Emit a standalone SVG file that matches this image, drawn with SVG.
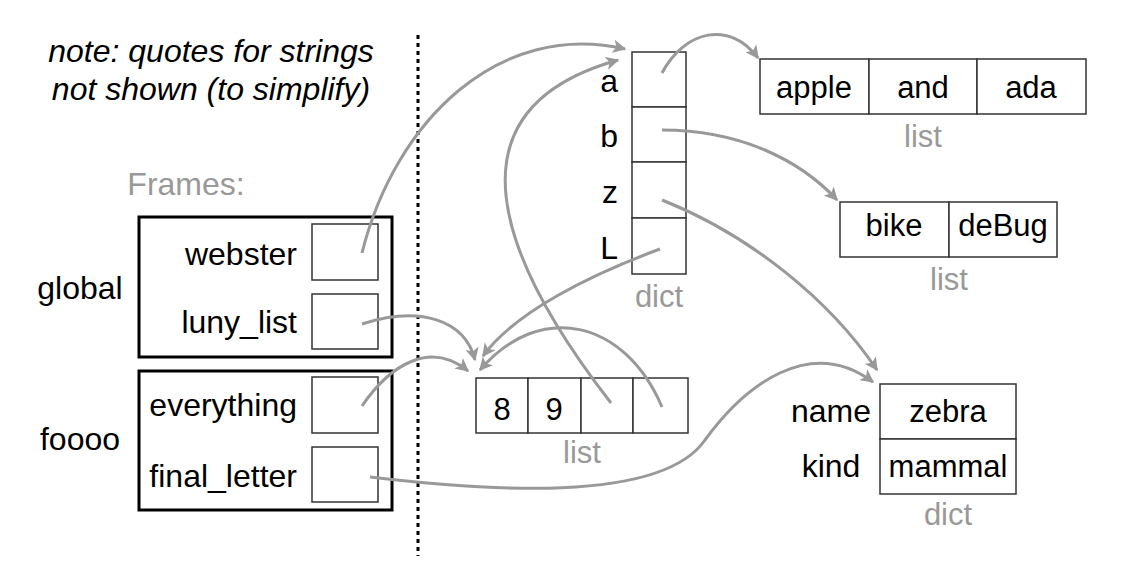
<svg xmlns="http://www.w3.org/2000/svg" width="1124" height="567" viewBox="0 0 1124 567">
<style>
  text { font-family: "Liberation Sans", Arial, sans-serif; fill: #000; }
  .lbl { font-size: 32px; }
  .val { font-size: 31px; text-anchor: middle; }
  .type { font-size: 31px; fill: #999; text-anchor: middle; }
  .cell { fill: #fff; stroke: #333; stroke-width: 1.5; }
  .frame { fill: none; stroke: #000; stroke-width: 3; }
  .conn { fill: none; stroke: #999; stroke-width: 3; marker-end: url(#arr); }
</style>
<defs>
  <marker id="arr" viewBox="0 0 10 10" refX="9" refY="5" markerWidth="4.5" markerHeight="4.5" orient="auto" markerUnits="strokeWidth">
    <path d="M0,0 L10,5 L0,10 L2.5,5 Z" fill="#999"/>
  </marker>
</defs>
<rect width="1124" height="567" fill="#fff"/>

<g id="note">
  <text class="lbl" x="211" y="62" text-anchor="middle" font-style="italic">note: quotes for strings</text>
  <text class="lbl" x="211" y="100" text-anchor="middle" font-style="italic">not shown (to simplify)</text>
</g>

<g id="divider">
  <line x1="418" y1="35" x2="418" y2="556" stroke="#000" stroke-width="3" stroke-dasharray="4,4"/>
</g>

<g id="frames-label">
  <text class="lbl" x="186" y="195" text-anchor="middle" style="fill:#999">Frames:</text>
</g>

<g id="frame-global">
  <text class="lbl" x="80" y="299" text-anchor="middle">global</text>
  <rect class="frame" x="139" y="217" width="253" height="140"/>
  <text class="lbl" x="297" y="265" text-anchor="end">webster</text>
  <rect class="cell" x="312" y="224" width="66" height="56"/>
  <text class="lbl" x="297" y="333" text-anchor="end">luny_list</text>
  <rect class="cell" x="312" y="294" width="66" height="55"/>
</g>

<g id="frame-foooo">
  <text class="lbl" x="80" y="450" text-anchor="middle">foooo</text>
  <rect class="frame" x="139" y="371" width="253" height="139"/>
  <text class="lbl" x="297" y="416" text-anchor="end">everything</text>
  <rect class="cell" x="312" y="377" width="66" height="56"/>
  <text class="lbl" x="297" y="487" text-anchor="end">final_letter</text>
  <rect class="cell" x="312" y="447" width="66" height="55"/>
</g>

<g id="dict-webster">
  <rect class="cell" x="632" y="52" width="54" height="55"/>
  <rect class="cell" x="632" y="107" width="54" height="55"/>
  <rect class="cell" x="632" y="162" width="54" height="56"/>
  <rect class="cell" x="632" y="218" width="54" height="56"/>
  <text class="lbl" x="618" y="92" text-anchor="end">a</text>
  <text class="lbl" x="618" y="147" text-anchor="end">b</text>
  <text class="lbl" x="618" y="203" text-anchor="end">z</text>
  <text class="lbl" x="618" y="259" text-anchor="end">L</text>
  <text class="type" x="659" y="307">dict</text>
</g>

<g id="list-apple">
  <rect class="cell" x="760" y="59" width="109" height="55"/>
  <rect class="cell" x="869" y="59" width="108" height="55"/>
  <rect class="cell" x="977" y="59" width="109" height="55"/>
  <text class="val" x="814" y="98">apple</text>
  <text class="val" x="923" y="98">and</text>
  <text class="val" x="1031" y="98">ada</text>
  <text class="type" x="923" y="147">list</text>
</g>

<g id="list-bike">
  <rect class="cell" x="840" y="202" width="109" height="55"/>
  <rect class="cell" x="949" y="202" width="108" height="55"/>
  <text class="val" x="894" y="236">bike</text>
  <text class="val" x="1003" y="236">deBug</text>
  <text class="type" x="949" y="290">list</text>
</g>

<g id="list-nums">
  <rect class="cell" x="476" y="378" width="52" height="55"/>
  <rect class="cell" x="528" y="378" width="53" height="55"/>
  <rect class="cell" x="581" y="378" width="52" height="55"/>
  <rect class="cell" x="633" y="378" width="55" height="55"/>
  <text class="val" x="502" y="420">8</text>
  <text class="val" x="554" y="420">9</text>
  <text class="type" x="582" y="463">list</text>
</g>

<g id="dict-zebra">
  <rect class="cell" x="880" y="384" width="136" height="55"/>
  <rect class="cell" x="880" y="439" width="136" height="55"/>
  <text class="lbl" x="831" y="422" text-anchor="middle">name</text>
  <text class="lbl" x="831" y="477" text-anchor="middle">kind</text>
  <text class="val" x="948" y="422">zebra</text>
  <text class="val" x="948" y="477">mammal</text>
  <text class="type" x="948" y="525">dict</text>
</g>

<g id="connectors">
  <path class="conn" d="M362,253 C395,120 500,20 625,49"/>
  <path class="conn" d="M611,403 C500,260 440,110 618,60"/>
  <path class="conn" d="M662,73 C685,30 730,20 758,58"/>
  <path class="conn" d="M662,130 C740,130 800,160 837,200"/>
  <path class="conn" d="M662,200 C750,235 830,300 877,370"/>
  <path class="conn" d="M660,249 C590,275 515,312 483,356"/>
  <path class="conn" d="M362,324 C420,305 465,320 475,360"/>
  <path class="conn" d="M362,406 C390,365 430,340 468,371"/>
  <path class="conn" d="M662,407 C625,320 540,300 480,370"/>
  <path class="conn" d="M370,477 C480,490 660,505 705,440 C745,385 810,335 873,382"/>
</g>
</svg>
